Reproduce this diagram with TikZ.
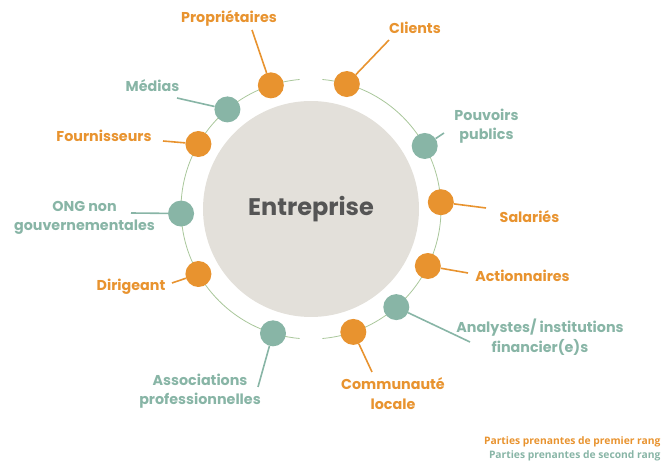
\documentclass[tikz,border=0pt]{standalone}
\usepackage{fontspec}
\setmainfont{Poppins}[BoldFont={Poppins Bold}]
\newfontfamily\legendfont{Open Sans}
\usetikzlibrary{calc}

\definecolor{firstrank}{HTML}{E8932F}
\definecolor{secondrank}{HTML}{88B5A6}
\definecolor{ringgreen}{HTML}{A9C79B}
\definecolor{coregray}{HTML}{E3E0DA}
\definecolor{coretext}{HTML}{555555}

\begin{document}
\begin{tikzpicture}[x=1pt, y=1pt, every node/.style={font=\bfseries\fontsize{14.3}{19.5}\selectfont},
	core/.style={circle, fill=coregray, minimum size=216pt, inner sep=0pt, text=coretext, font=\bfseries\fontsize{24}{30}\selectfont},
	firstdot/.style={circle, fill=firstrank, minimum size=26pt, inner sep=0pt},
	seconddot/.style={circle, fill=secondrank, minimum size=26pt, inner sep=0pt},
	firstlbl/.style={text=firstrank, align=center},
	secondlbl/.style={text=secondrank, align=center},
	firstlink/.style={draw=firstrank, line width=1.6pt},
	secondlink/.style={draw=secondrank, line width=1.6pt},
	legend/.style={anchor=east, font=\legendfont\bfseries\fontsize{10.3}{12}\selectfont}]
			\useasboundingbox (0,0) rectangle (665,461);
			\coordinate (c) at (311,252);

			% Ring (open at top and bottom)
			\draw[ringgreen, line width=0.8pt] ($(c)+(95:130)$) arc[start angle=95, end angle=265, radius=130];
			\draw[ringgreen, line width=0.8pt] ($(c)+(275:130)$) arc[start angle=275, end angle=445, radius=130];
			\node[core] (ent) at (c) {Entreprise};

			% Dots on the ring
			\node[firstdot] (prop) at ($(c)+(108:130)$) {};
			\node[firstdot] (clients) at ($(c)+(74:130)$) {};
			\node[seconddot] (medias) at ($(c)+(130:130)$) {};
			\node[firstdot] (fourn) at ($(c)+(150:130)$) {};
			\node[seconddot] (ong) at ($(c)+(182:130)$) {};
			\node[firstdot] (dirig) at ($(c)+(210:130)$) {};
			\node[seconddot] (assoc) at ($(c)+(253:130)$) {};
			\node[firstdot] (commun) at ($(c)+(289:130)$) {};
			\node[seconddot] (analyst) at ($(c)+(311:130)$) {};
			\node[firstdot] (action) at ($(c)+(334:130)$) {};
			\node[firstdot] (salar) at ($(c)+(3:130)$) {};
			\node[seconddot] (pouv) at ($(c)+(29:130)$) {};

			% Labels
			\node[firstlbl] (prop-lbl) at (229,443) {Propriétaires};
			\node[firstlbl] (clients-lbl) at (415,433) {Clients};
			\node[secondlbl] (medias-lbl) at (152.5,375) {Médias};
			\node[firstlbl] (fourn-lbl) at (104,325) {Fournisseurs};
			\node[secondlbl] (ong-lbl) at (84.5,243) {ONG non\\gouvernementales};
			\node[firstlbl] (dirig-lbl) at (131,174) {Dirigeant};
			\node[secondlbl] (assoc-lbl) at (200,70) {Associations\\professionnelles};
			\node[firstlbl] (commun-lbl) at (393,67.5) {Communauté\\locale};
			\node[secondlbl] (analyst-lbl) at (540,124) {Analystes/ institutions\\financier(e)s};
			\node[firstlbl] (action-lbl) at (522.5,185) {Actionnaires};
			\node[firstlbl] (salar-lbl) at (529.5,244) {Salariés};
			\node[secondlbl] (pouv-lbl) at (486.5,335) {Pouvoirs\\publics};

			% Links
			\coordinate (prop-end) at (252,431);
			\coordinate (clients-end) at (389,421);
			\coordinate (medias-end) at (177,363);
			\coordinate (fourn-end) at (163,320);
			\coordinate (ong-end) at (131,248);
			\coordinate (dirig-end) at (172,178);
			\coordinate (assoc-end) at (258,74);
			\coordinate (commun-end) at (372,89);
			\coordinate (analyst-end) at (470,119);
			\coordinate (action-end) at (468,188);
			\coordinate (salar-end) at (486,253);
			\coordinate (pouv-end) at (444,328);
			\draw[firstlink] (prop) -- (prop-end);
			\draw[firstlink] (clients) -- (clients-end);
			\draw[secondlink] (medias) -- (medias-end);
			\draw[firstlink] (fourn) -- (fourn-end);
			\draw[secondlink] (ong) -- (ong-end);
			\draw[firstlink] (dirig) -- (dirig-end);
			\draw[secondlink] (assoc) -- (assoc-end);
			\draw[firstlink] (commun) -- (commun-end);
			\draw[secondlink] (analyst) -- (analyst-end);
			\draw[firstlink] (action) -- (action-end);
			\draw[firstlink] (salar) -- (salar-end);
			\draw[secondlink] (pouv) -- (pouv-end);

			% Legend
			\node[legend, text=firstrank] (leg-first) at (664,19) {Parties prenantes de premier rang};
			\node[legend, text=secondrank] (leg-second) at (664,5) {Parties prenantes de second rang};
		\end{tikzpicture}
\end{document}
